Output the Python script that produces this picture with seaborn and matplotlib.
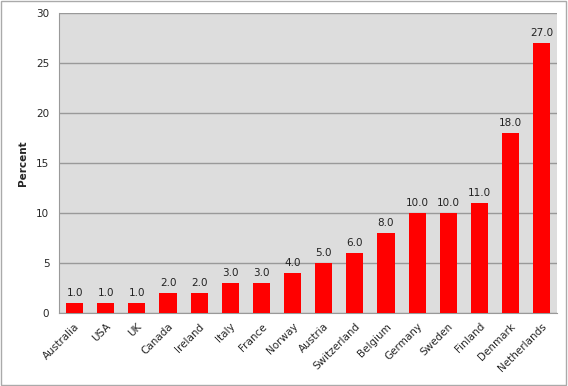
import matplotlib
matplotlib.use("Agg")
import matplotlib.pyplot as plt
import seaborn as sns
import pandas as pd
from matplotlib.patches import Rectangle

# Data
countries = ["Australia", "USA", "UK", "Canada", "Ireland", "Italy", "France", "Norway",
             "Austria", "Switzerland", "Belgium", "Germany", "Sweden", "Finland",
             "Denmark", "Netherlands"]
percent = [1.0, 1.0, 1.0, 2.0, 2.0, 3.0, 3.0, 4.0, 5.0, 6.0, 8.0, 10.0, 10.0, 11.0, 18.0, 27.0]
y_ticks = [0, 5, 10, 15, 20, 25, 30]

df = pd.DataFrame({"country": countries, "percent": percent})

sns.set_style("white")
plt.rcParams["font.family"] = ["DejaVu Sans"]
plt.rcParams["font.size"] = 7.5

fig = plt.figure(figsize=(5.68, 3.86), dpi=100)
ax = fig.add_axes([0.104, 0.189, 0.877, 0.777])

ax.set_facecolor("#dddddd")
sns.barplot(data=df, x="country", y="percent", color="#ff0000", width=0.55,
            saturation=1, ax=ax, zorder=3)
for p in ax.patches:
    p.set_edgecolor("none")

for i, v in enumerate(percent):
    ax.text(i, v + 0.5, f"{v:.1f}", ha="center", va="bottom", fontsize=7.5, color="#222222")

ax.set_ylim(0, 30)
ax.set_xlim(-0.5, len(countries) - 0.5)
ax.set_yticks(y_ticks)
ax.yaxis.grid(True, color="#999999", linewidth=1, zorder=0)
ax.set_axisbelow(True)

ax.set_xlabel("")
ax.set_ylabel("Percent", fontweight="bold", fontsize=7.5, labelpad=6)
ax.set_xticks(range(len(countries)))
ax.set_xticklabels(countries, rotation=45, ha="right", rotation_mode="anchor")
ax.tick_params(axis="x", length=0, pad=6)
ax.set_xticks([i + 0.5 for i in range(-1, len(countries))], minor=True)
ax.tick_params(axis="x", which="minor", length=4, color="#999999", direction="out")
ax.tick_params(axis="y", length=4, color="#999999", direction="out", pad=3)

for side in ["top", "right"]:
    ax.spines[side].set_visible(False)
ax.spines["left"].set_color("#999999")
ax.spines["bottom"].set_color("#999999")

# outer border of the chart
fig.patches.append(Rectangle((0.002, 0.003), 0.995, 0.994, transform=fig.transFigure,
                             fill=False, edgecolor="#aaaaaa", linewidth=1))

fig.savefig("out.png", dpi=100)
